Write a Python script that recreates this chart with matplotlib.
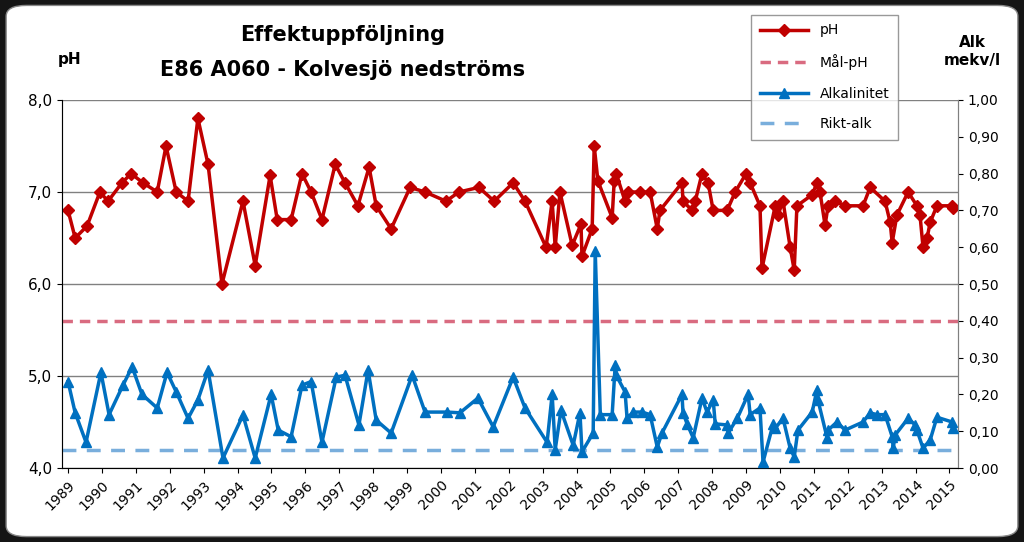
import matplotlib
matplotlib.use("Agg")
import matplotlib.pyplot as plt
from matplotlib.patches import FancyBboxPatch
from matplotlib.lines import Line2D

ph_dates = [1989.00,1989.21,1989.56,1989.94,1990.18,1990.59,1990.86,1991.21,1991.63,1991.89,
            1992.19,1992.54,1992.83,1993.13,1993.54,1994.16,1994.52,1994.96,1995.17,1995.58,
            1995.90,1996.17,1996.49,1996.88,1997.17,1997.55,1997.88,1998.09,1998.53,1999.09,
            1999.53,2000.15,2000.53,2001.12,2001.57,2002.13,2002.48,2003.10,2003.28,2003.37,
            2003.51,2003.87,2004.13,2004.16,2004.46,2004.52,2004.63,2005.05,2005.11,2005.17,
            2005.43,2005.52,2005.87,2006.17,2006.38,2006.46,2007.11,2007.14,2007.41,2007.50,
            2007.70,2007.88,2008.03,2008.44,2008.68,2009.00,2009.12,2009.41,2009.47,2009.86,
            2009.94,2010.09,2010.30,2010.42,2010.50,2010.95,2011.09,2011.18,2011.33,2011.42,
            2011.63,2011.92,2012.45,2012.66,2013.10,2013.25,2013.31,2013.45,2013.78,2014.04,
            2014.13,2014.22,2014.34,2014.43,2014.63,2015.08,2015.11]
ph_values = [6.8,6.5,6.63,7.0,6.9,7.1,7.2,7.1,7.0,7.5,
             7.0,6.9,7.8,7.3,6.0,6.9,6.2,7.18,6.7,6.7,
             7.2,7.0,6.7,7.3,7.1,6.85,7.27,6.85,6.6,7.05,
             7.0,6.9,7.0,7.05,6.9,7.1,6.9,6.4,6.9,6.4,
             7.0,6.42,6.65,6.3,6.6,7.5,7.12,6.72,7.12,7.2,
             6.9,7.0,7.0,7.0,6.6,6.8,7.1,6.9,6.8,6.9,
             7.2,7.1,6.8,6.8,7.0,7.2,7.1,6.85,6.17,6.85,
             6.75,6.9,6.4,6.15,6.85,6.97,7.1,7.0,6.64,6.85,
             6.9,6.85,6.85,7.05,6.9,6.67,6.45,6.75,7.0,6.85,
             6.75,6.4,6.5,6.67,6.85,6.85,6.83]

alk_dates = [1989.00,1989.21,1989.53,1989.97,1990.21,1990.62,1990.89,1991.18,1991.63,1991.92,
             1992.19,1992.54,1992.83,1993.13,1993.57,1994.16,1994.52,1994.99,1995.20,1995.58,
             1995.90,1996.17,1996.49,1996.91,1997.17,1997.58,1997.85,1998.09,1998.53,1999.15,
             1999.53,2000.18,2000.56,2001.09,2001.54,2002.13,2002.48,2003.13,2003.28,2003.37,
             2003.54,2003.90,2004.10,2004.16,2004.49,2004.55,2004.70,2005.05,2005.14,2005.17,
             2005.43,2005.49,2005.67,2005.93,2006.17,2006.38,2006.52,2007.11,2007.14,2007.26,
             2007.44,2007.70,2007.85,2008.03,2008.09,2008.44,2008.47,2008.74,2009.06,2009.12,
             2009.41,2009.50,2009.80,2009.86,2010.09,2010.30,2010.42,2010.53,2010.95,2011.09,
             2011.12,2011.39,2011.42,2011.68,2011.92,2012.45,2012.66,2012.86,2013.10,2013.31,
             2013.34,2013.40,2013.78,2013.99,2014.04,2014.22,2014.43,2014.63,2015.08,2015.11]
alk_values = [0.235,0.15,0.07,0.26,0.145,0.225,0.275,0.2,0.163,0.26,
              0.207,0.135,0.185,0.266,0.027,0.144,0.027,0.2,0.103,0.085,
              0.225,0.235,0.07,0.247,0.252,0.117,0.266,0.13,0.095,0.252,
              0.152,0.152,0.15,0.19,0.112,0.247,0.163,0.07,0.2,0.05,
              0.157,0.062,0.15,0.044,0.095,0.59,0.145,0.145,0.28,0.252,
              0.207,0.135,0.152,0.152,0.145,0.057,0.095,0.2,0.15,0.12,
              0.082,0.19,0.152,0.185,0.12,0.117,0.095,0.135,0.2,0.145,
              0.163,0.016,0.12,0.108,0.135,0.054,0.03,0.103,0.152,0.212,
              0.185,0.082,0.103,0.125,0.103,0.125,0.15,0.145,0.145,0.085,
              0.054,0.09,0.135,0.117,0.103,0.054,0.076,0.138,0.125,0.108]

mal_ph = 5.6
rikt_alk = 0.05
years = list(range(1989, 2016))

red = "#C00000"
blue = "#0070C0"

fig = plt.figure(figsize=(10.24, 5.42), dpi=100, facecolor="#151515")
bg = FancyBboxPatch((0.006, 0.01), 0.988, 0.98, boxstyle="round,pad=0,rounding_size=0.02",
                    transform=fig.transFigure, facecolor="white", edgecolor="#888888", zorder=-10)
fig.patches.append(bg)

ax = fig.add_axes([0.0605, 0.1365, 0.875, 0.679])
ax.set_facecolor("white")
ax.set_ylim(4.0, 8.0)
ax.set_xlim(1988.82, 2015.25)
ax.set_yticks([4, 5, 6, 7, 8])
ax.set_yticklabels([f"{v:.1f}".replace(".", ",") for v in [4, 5, 6, 7, 8]], fontsize=11)
ax.yaxis.grid(True, color="#808080", lw=1)
ax.set_axisbelow(True)
ax.set_xticks(years)
ax.set_xticklabels([str(y) for y in years], rotation=45, ha="right", rotation_mode="anchor", fontsize=10)
for s in ["top"]:
    ax.spines[s].set_visible(False)
for s in ["left", "bottom", "right"]:
    ax.spines[s].set_color("#808080")

ax2 = ax.twinx()
ax2.set_ylim(0.0, 1.0)
ax2.set_xlim(1988.82, 2015.25)
rt = [i / 10 for i in range(11)]
ax2.set_yticks(rt)
ax2.set_yticklabels([f"{v:.2f}".replace(".", ",") for v in rt], fontsize=10)
ax2.spines["top"].set_visible(False)
ax2.spines["right"].set_color("#808080")

ax.plot(ph_dates, ph_values, color=red, lw=2.5, marker="D", ms=6, zorder=5)
ax.axhline(mal_ph, color="#D96B80", lw=2.5, ls=(0, (3, 2)))
ax2.plot(alk_dates, alk_values, color=blue, lw=2.5, marker="^", ms=7, zorder=5)
ax2.axhline(rikt_alk, color="#79AEDC", lw=2.5, ls=(0, (4, 3)))

fig.text(0.335, 0.935, "Effektuppföljning", ha="center", va="center", fontsize=15, fontweight="bold")
fig.text(0.335, 0.87, "E86 A060 - Kolvesjö nedströms", ha="center", va="center", fontsize=15, fontweight="bold")
fig.text(0.068, 0.89, "pH", ha="center", va="center", fontsize=11, fontweight="bold")
fig.text(0.95, 0.905, "Alk\nmekv/l", ha="center", va="center", fontsize=11, fontweight="bold", linespacing=1.3)

handles = [Line2D([], [], color=red, lw=2.5, marker="D", ms=6),
           Line2D([], [], color="#D96B80", lw=2.5, ls=(0, (3, 2))),
           Line2D([], [], color=blue, lw=2.5, marker="^", ms=7),
           Line2D([], [], color="#79AEDC", lw=2.5, ls=(0, (4, 3)))]
fig.legend(handles, ["pH", "Mål-pH", "Alkalinitet", "Rikt-alk"], loc="upper left",
           bbox_to_anchor=(0.727, 0.985), frameon=True, fancybox=False, edgecolor="#808080",
           fontsize=10, labelspacing=1.2, handlelength=3.5, borderpad=0.6)

fig.savefig("out.png", dpi=100, facecolor=fig.get_facecolor())
